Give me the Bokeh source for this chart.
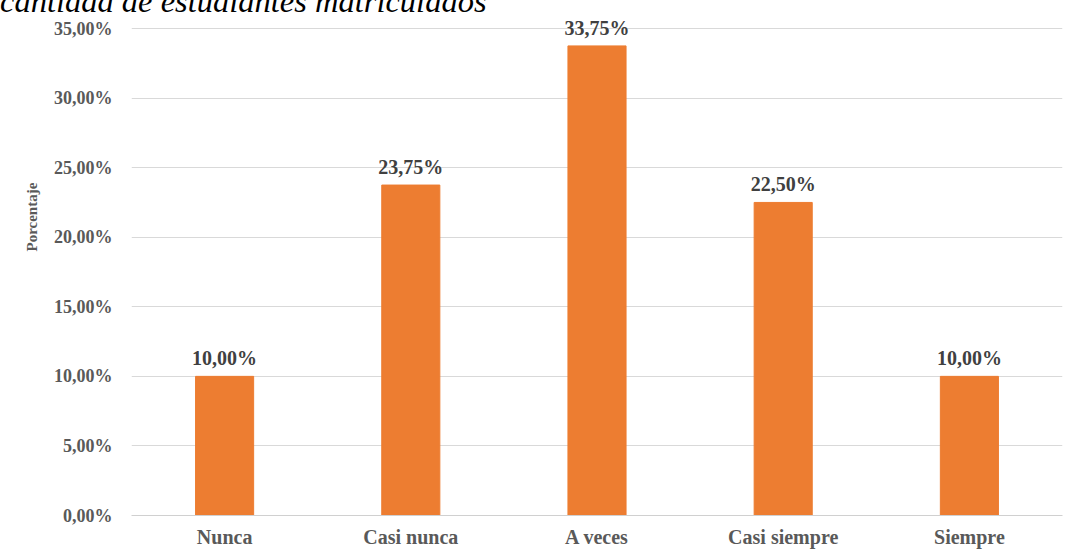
from bokeh.plotting import figure
from bokeh.layouts import column
from bokeh.models import (ColumnDataSource, FixedTicker, CustomJSTickFormatter, FactorRange,
                          Range1d, Title, Div)
from bokeh.core.properties import value
from bokeh.embed import file_html
from bokeh.resources import INLINE

categories = ["Nunca", "Casi nunca", "A veces", "Casi siempre", "Siempre"]
percentages = [0.10, 0.2375, 0.3375, 0.225, 0.10]
labels = ["10,00%", "23,75%", "33,75%", "22,50%", "10,00%"]
y_ticks = [0, 0.05, 0.10, 0.15, 0.20, 0.25, 0.30, 0.35]
title_text = "cantidad de estudiantes matriculados"
y_label = "Porcentaje"

serif = "Liberation Serif"

src = ColumnDataSource(dict(cat=categories, val=percentages, lab=labels))

p = figure(width=1076, height=540, x_range=FactorRange(*categories, range_padding=0),
           y_range=Range1d(0, 0.3572), output_backend="svg", toolbar_location=None,
           min_border_left=131, min_border_right=14, min_border_top=6, min_border_bottom=37)
p.outline_line_color = None
p.background_fill_color = "white"
p.border_fill_color = "white"

p.vbar(x="cat", top="val", width=0.312, color="#ED7D31", source=src)
p.text(x="cat", y="val", text="lab", source=src, text_align="center", text_baseline="alphabetic",
       y_offset=-18, text_font=value(serif), text_font_style="bold",
       text_font_size="20px", text_color="#404040")

p.yaxis.ticker = FixedTicker(ticks=y_ticks)
p.yaxis.formatter = CustomJSTickFormatter(code="return (tick*100).toFixed(2).replace('.', ',') + '%';")
p.yaxis.axis_line_color = None
p.yaxis.major_tick_line_color = None
p.yaxis.major_tick_out = 0
p.yaxis.major_tick_in = 0
p.yaxis.minor_tick_line_color = None
p.yaxis.major_label_text_font = serif
p.yaxis.major_label_text_font_style = "bold"
p.yaxis.major_label_text_font_size = "18px"
p.yaxis.major_label_text_color = "#595959"
p.yaxis.major_label_standoff = 19

p.xaxis.axis_line_color = "#d0d0d0"
p.xaxis.major_tick_line_color = None
p.xaxis.major_tick_out = 0
p.xaxis.major_tick_in = 0
p.xaxis.minor_tick_line_color = None
p.xaxis.major_label_text_font = serif
p.xaxis.major_label_text_font_style = "bold"
p.xaxis.major_label_text_font_size = "20px"
p.xaxis.major_label_text_color = "#595959"
p.xaxis.major_label_standoff = 10

p.xgrid.grid_line_color = None
p.ygrid.grid_line_color = "#d9d9d9"
p.ygrid.grid_line_width = 1

ytitle = Title(text=y_label, align="left", offset=264, standoff=21,
               text_font=serif, text_font_style="bold", text_font_size="15px",
               text_color="#595959")
p.add_layout(ytitle, "left")

head = Div(text=('<div style="height:12px;overflow:hidden;">'
                 '<div style="position:relative;top:-15px;font-family:\'Liberation Serif\';'
                 'font-style:italic;font-size:32.5px;line-height:32.5px;white-space:nowrap;color:#000;">'
                 + title_text + '</div></div>'),
           width=1076, height=12, margin=0, styles={"overflow": "hidden"})

layout = column(head, p, spacing=0)

open("out.html", "w").write(file_html(layout, INLINE))
